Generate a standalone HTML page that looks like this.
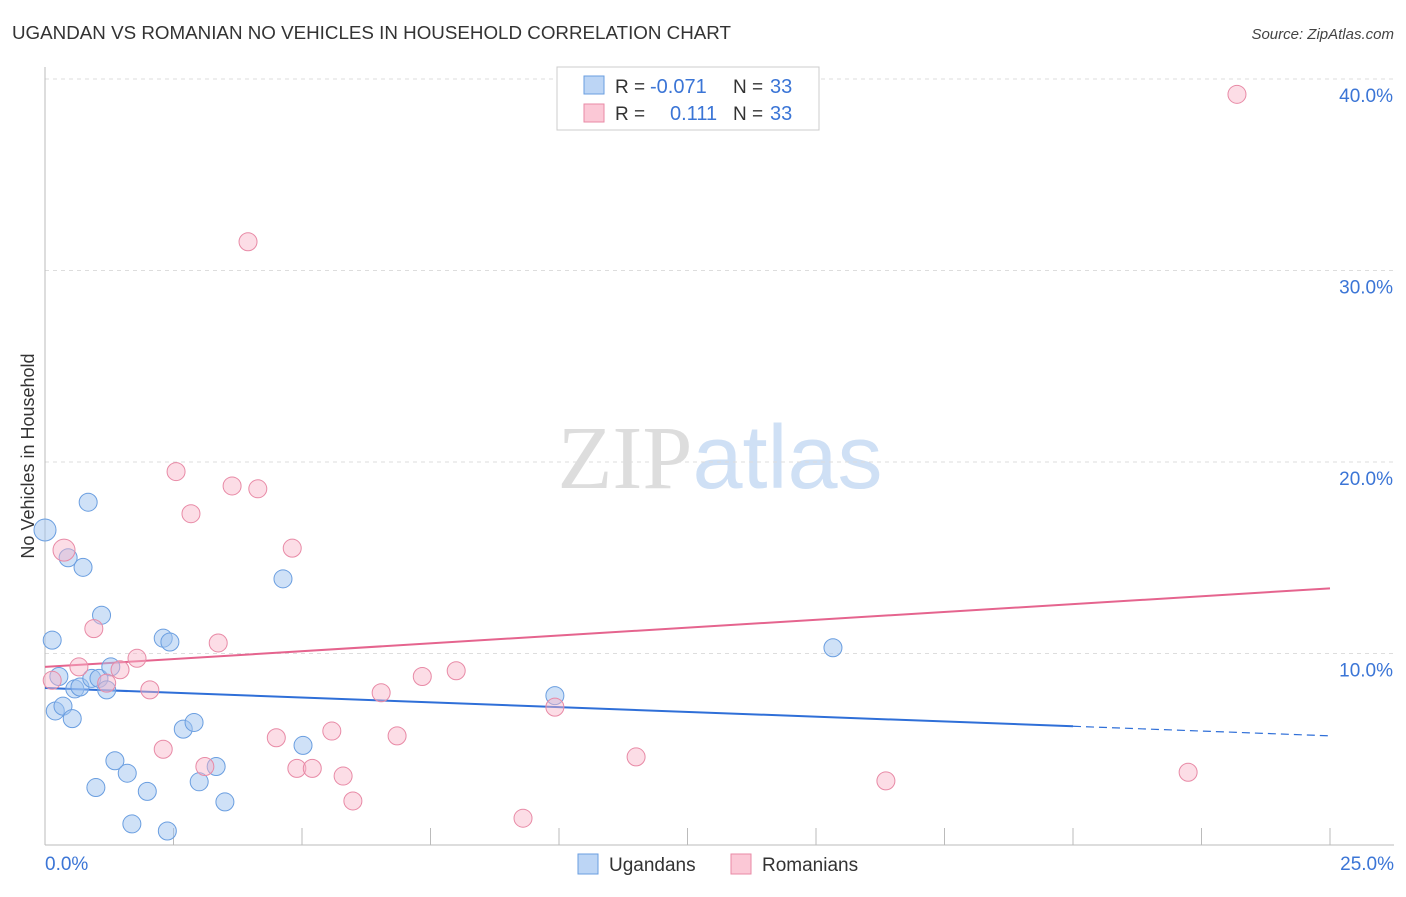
<!DOCTYPE html>
<html><head><meta charset="utf-8"><style>
body{margin:0;background:#fff;font-family:"Liberation Sans",sans-serif;}
svg text{font-family:"Liberation Sans",sans-serif;}
</style></head><body>
<svg id="chart" width="1406" height="892" xmlns="http://www.w3.org/2000/svg">
<text x="12" y="39" font-size="18" fill="#333" textLength="719" lengthAdjust="spacingAndGlyphs">UGANDAN VS ROMANIAN NO VEHICLES IN HOUSEHOLD CORRELATION CHART</text>
<text x="1394" y="39" font-size="15" fill="#444" text-anchor="end" font-style="italic">Source: ZipAtlas.com</text>
<text x="720" y="488" font-size="90" text-anchor="middle"><tspan fill="#ddd" font-family="Liberation Serif">ZIP</tspan><tspan fill="#cfe0f5">atlas</tspan></text>
<g id="grid"></g><g id="axes"></g><g id="trends"></g><g id="points"></g>
<text transform="translate(34,456) rotate(-90)" font-size="18" fill="#333" text-anchor="middle">No Vehicles in Household</text>
<g>
<rect x="557" y="67" width="262" height="63" fill="#fff" stroke="#ccc"/>
<rect x="584" y="76" width="20" height="18" fill="#bcd5f5" stroke="#6a9ee0"/>
<rect x="584" y="104" width="20" height="18" fill="#fbc8d6" stroke="#e88aa6"/>
<text x="615" y="93" font-size="19" fill="#333">R =</text>
<text x="650" y="93" font-size="20" fill="#3b75d6">-0.071</text>
<text x="733" y="93" font-size="19" fill="#333">N =</text>
<text x="770" y="93" font-size="20" fill="#3b75d6">33</text>
<text x="615" y="120" font-size="19" fill="#333">R =</text>
<text x="670" y="120" font-size="20" fill="#3b75d6">0.111</text>
<text x="733" y="120" font-size="19" fill="#333">N =</text>
<text x="770" y="120" font-size="20" fill="#3b75d6">33</text>
</g>
<g>
<rect x="578" y="854" width="20" height="20" fill="#bcd5f5" stroke="#6a9ee0"/>
<text x="609" y="871" font-size="19" fill="#333">Ugandans</text>
<rect x="731" y="854" width="20" height="20" fill="#fbc8d6" stroke="#e88aa6"/>
<text x="762" y="871" font-size="19" fill="#333">Romanians</text>
</g>
</svg>
<script>
const xTicks=[0,2.5,5,7.5,10,12.5,15,17.5,20,22.5,25];
const yTicks=[10,20,30,40];
const ugX=[0,0.14,0.84,0.45,0.74,1.1,0.27,0.2,0.35,0.53,0.58,0.68,0.91,1.05,1.2,1.28,1.36,0.99,1.6,1.99,1.69,2.38,2.3,2.43,2.69,2.9,3.0,3.33,3.5,4.63,5.02,9.92,15.33];
const ugY=[16.45,10.7,17.9,15.0,14.5,12.0,8.8,7.0,7.25,6.6,8.15,8.25,8.7,8.7,8.1,9.3,4.4,3.0,3.75,2.8,1.1,0.73,10.8,10.6,6.05,6.4,3.3,4.1,2.25,13.9,5.2,7.8,10.3];
const roX=[23.19,3.95,2.55,3.64,4.14,2.84,0.37,4.81,0.95,3.37,1.79,0.66,1.46,1.2,0.14,2.04,8.0,7.34,6.54,9.92,5.58,4.5,6.85,2.3,3.11,4.9,5.2,5.8,5.99,9.3,11.5,16.36,22.24];
const roY=[39.2,31.5,19.5,18.75,18.6,17.3,15.4,15.5,11.3,10.55,9.75,9.3,9.15,8.45,8.6,8.1,9.1,8.8,7.95,7.2,5.95,5.6,5.7,5.0,4.1,4.0,4.0,3.6,2.3,1.4,4.6,3.35,3.8];
const ugTrend=[8.2,5.7];
const roTrend=[9.3,13.4];
const NS="http://www.w3.org/2000/svg";
const X=v=>45+v*(1285/25);
const Y=v=>845-v*19.15;
function mk(tag,attrs,parent){const e=document.createElementNS(NS,tag);for(const k in attrs)e.setAttribute(k,attrs[k]);document.getElementById(parent).appendChild(e);return e;}
yTicks.forEach(t=>{
 const l=mk('line',{x1:45,x2:1394,y1:Y(t),y2:Y(t),stroke:'#ddd','stroke-dasharray':'4,4'},'grid');
 
 
 const tx=mk('text',{x:1393,y:Y(t)+23,'font-size':19,fill:'#3b75d6','text-anchor':'end'},'grid');
 tx.textContent=t.toFixed(1)+'%';
 
 
});
const ax=mk('line',{x1:45,x2:45,y1:67,y2:845,stroke:'#bbb'},'axes');


const bx=mk('line',{x1:45,x2:1394,y1:845,y2:845,stroke:'#bbb'},'axes');


xTicks.forEach(t=>{
 const l=mk('line',{x1:X(t),x2:X(t),y1:828,y2:845,stroke:'#bbb'},'axes');
 
 
});
[[0,'start'],[25,'end']].forEach(([t,a])=>{
 const tx=mk('text',{x:t==0?45:1394,y:870,'font-size':19,fill:'#3b75d6','text-anchor':a},'axes');
 tx.textContent=t.toFixed(1)+'%';
 
 
});
const ug=v=>ugTrend[0]+(ugTrend[1]-ugTrend[0])*v/25;
const ro=v=>roTrend[0]+(roTrend[1]-roTrend[0])*v/25;
let t1=mk('line',{x1:X(0),y1:Y(ug(0)),x2:X(20),y2:Y(ug(20)),stroke:'#2f6fd8','stroke-width':2},'trends');


let t2=mk('line',{x1:X(20),y1:Y(ug(20)),x2:X(25),y2:Y(ug(25)),stroke:'#2f6fd8','stroke-width':1.2,'stroke-dasharray':'8,5'},'trends');


let t3=mk('line',{x1:X(0),y1:Y(ro(0)),x2:X(25),y2:Y(ro(25)),stroke:'#e5648e','stroke-width':2},'trends');


ugX.forEach((x,i)=>{
 const c=mk('circle',{cx:X(x),cy:Y(ugY[i]),r:i==0?11:9,fill:'rgba(160,196,240,0.5)',stroke:'#6a9ee0','stroke-width':1},'points');
 
 
});
roX.forEach((x,i)=>{
 const c=mk('circle',{cx:X(x),cy:Y(roY[i]),r:i==6?11:9,fill:'rgba(248,180,200,0.45)',stroke:'#e88aa6','stroke-width':1},'points');
 
 
});
</script>
</body></html>
